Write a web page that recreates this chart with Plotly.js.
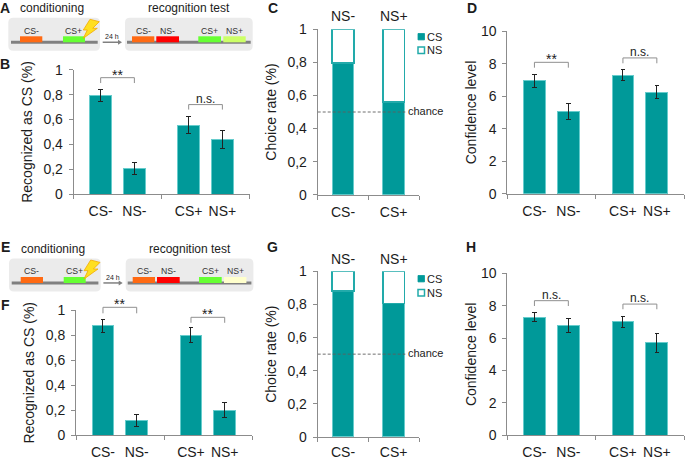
<!DOCTYPE html>
<html>
<head>
<meta charset="utf-8">
<script src="https://cdn.plot.ly/plotly-3.0.1.min.js"></script>
<style>html,body{margin:0;padding:0;background:#fff}#chart{width:685px;height:459px}</style>
</head>
<body>
<div id="chart"></div>
<script>
// ---------- data ----------
const groupCategories = ['CS-', 'NS-', 'CS+', 'NS+'];
const choiceCategories = ['CS-', 'CS+'];
const choiceTopLabels = ['NS-', 'NS+'];

const recognizedB = [0.79, 0.205, 0.555, 0.44];
const recognizedBErr = [0.048, 0.048, 0.068, 0.07];
const choiceCS_C = [0.795, 0.56];
const choiceNS_C = [0.205, 0.44];
const confidenceD = [6.95, 5.05, 7.3, 6.25];
const confidenceDErr = [0.4, 0.48, 0.35, 0.4];

const recognizedF = [0.875, 0.12, 0.80, 0.20];
const recognizedFErr = [0.05, 0.05, 0.059, 0.059];
const choiceCS_G = [0.88, 0.805];
const choiceNS_G = [0.12, 0.195];
const confidenceH = [7.3, 6.8, 7.0, 5.7];
const confidenceHErr = [0.26, 0.43, 0.36, 0.6];

const rateTicks = [0, 0.2, 0.4, 0.6, 0.8, 1];
const rateTickText = ['0', '0,2', '0,4', '0,6', '0,8', '1'];
const levelTicks = [0, 2, 4, 6, 8, 10];
const chanceLevel = 0.5;

// ---------- style ----------
const W = 685, H = 459;
const FONT = '"Liberation Sans", Arial, sans-serif';
const TEAL = '#009999', EDGE = '#66cccc', OUT = '#22aaaa';
const AXIS = '#8c8c8c', INK = '#1c1c1c', BRK = '#8f8f8f';
const xGroup = [0.8, 1.8, 3.41, 4.41];
const xChoice = [0.5, 1.5];

const px = x => x / W, py = y => 1 - y / H;
const data = [], shapes = [], annotations = [];
const layout = {
  width: W, height: H, margin: {l: 0, r: 0, t: 0, b: 0, pad: 0},
  paper_bgcolor: '#fff', plot_bgcolor: 'rgba(0,0,0,0)', showlegend: false,
  barmode: 'stack', font: {family: FONT, color: INK}, shapes, annotations
};

function text(t, x, y, size, o) {
  annotations.push(Object.assign({
    text: t, x: px(x), y: py(y), xref: 'paper', yref: 'paper', showarrow: false,
    xanchor: 'center', yanchor: 'middle', borderpad: 0,
    font: {size, family: FONT, color: INK}
  }, o || {}));
}
function setAxes(n, box, xRange, xVals, xText, xMarks, yRange, yVals, yText, title, stand) {
  layout['xaxis' + (n === 1 ? '' : n)] = {
    domain: [px(box.l), px(box.r)], range: xRange, anchor: 'y' + n, fixedrange: true,
    showgrid: false, zeroline: false, showline: true, linecolor: AXIS, linewidth: 1,
    tickmode: 'array', tickvals: xVals, ticktext: xText, ticks: 'outside', ticklen: box.tl || 4,
    tickcolor: 'rgba(0,0,0,0)', ticklabelstandoff: 0, tickfont: {size: 14, color: INK, family: FONT},
    minor: {tickmode: 'array', tickvals: xMarks, ticks: 'outside', ticklen: 4, tickcolor: AXIS, tickwidth: 1, showgrid: false}
  };
  layout['yaxis' + (n === 1 ? '' : n)] = {
    domain: [py(box.b), py(box.t)], range: yRange, anchor: 'x' + n, fixedrange: true,
    showgrid: false, zeroline: false, showline: true, linecolor: AXIS, linewidth: 1,
    tickmode: 'array', tickvals: yVals, ticktext: yText, ticks: 'outside', ticklen: 4,
    tickcolor: AXIS, ticklabelstandoff: 3, tickfont: {size: 14, color: INK, family: FONT},
    title: {text: title, standoff: stand, font: {size: 14, color: INK, family: FONT}}
  };
}
function bracket(n, box, yMax, x0, x1, top, foot, label, dy) {
  const xr = 'x' + (n === 1 ? '' : n);
  const yp = v => py(box.b - (box.b - box.t) * v / yMax);
  shapes.push({type: 'path', xref: xr, yref: 'paper',
    path: `M${x0},${yp(foot)} L${x0},${yp(top)} L${x1},${yp(top)} L${x1},${yp(foot)}`,
    line: {color: BRK, width: 1}, fillcolor: 'rgba(0,0,0,0)'});
  annotations.push({text: label, x: (x0 + x1) / 2, y: yp(top), xref: xr, yref: 'paper', showarrow: false,
    yanchor: 'middle', yshift: dy, font: {size: label === '**' ? 14 : 12, family: FONT, color: INK}});
}
function groupPanel(n, box, vals, errs, yRange, yVals, yText, title, stand, brackets) {
  setAxes(n, box, [0, 5.22], xGroup, groupCategories, [0, 2.61, 5.22], yRange, yVals, yText, title, stand);
  data.push({type: 'bar', x: xGroup, y: vals, width: 0.64, xaxis: 'x' + n, yaxis: 'y' + n, name: title,
    marker: {color: TEAL, line: {color: EDGE, width: 1}},
    error_y: {type: 'data', array: errs, visible: true, color: '#222', thickness: 1, width: 2.2}});
  brackets.forEach(b => bracket(n, box, yRange[1], xGroup[b[0]], xGroup[b[1]], b[2], b[3], b[4], b[5]));
}
function choicePanel(n, box, cs, ns, lx, topY, stand) {
  setAxes(n, box, [0, 2], xChoice, choiceCategories, [0, 1, 2], [0, 1], rateTicks, rateTickText, 'Choice rate (%)', stand);
  data.push({type: 'bar', x: xChoice, y: cs, width: 0.43, xaxis: 'x' + n, yaxis: 'y' + n, name: 'CS',
    marker: {color: TEAL, line: {color: EDGE, width: 1}}});
  data.push({type: 'bar', x: xChoice, y: ns, width: 0.43, xaxis: 'x' + n, yaxis: 'y' + n, name: 'NS',
    marker: {color: '#ffffff', line: {color: OUT, width: 1.6}}});
  shapes.push({type: 'line', xref: 'x' + n, yref: 'y' + n, x0: 0, x1: 1.73, y0: chanceLevel, y1: chanceLevel,
    line: {color: '#5f5f5f', width: 0.9, dash: '3px,2px'}});
  text('chance', lx.c, box.t + (box.b - box.t) * 0.5 - 1, 11);
  // legend
  shapes.push({type: 'rect', xref: 'paper', yref: 'paper', x0: px(lx.s), x1: px(lx.s + 6.5), y0: py(lx.y1 + 3.2), y1: py(lx.y1 - 3.2),
    fillcolor: TEAL, line: {color: TEAL, width: 0.8}});
  shapes.push({type: 'rect', xref: 'paper', yref: 'paper', x0: px(lx.s), x1: px(lx.s + 6.5), y0: py(lx.y2 + 3.2), y1: py(lx.y2 - 3.2),
    fillcolor: '#fff', line: {color: OUT, width: 1.5}});
  text('CS', lx.s + 7.5, lx.y1, 11, {xanchor: 'left'});
  text('NS', lx.s + 7.5, lx.y2, 11, {xanchor: 'left'});
  choiceTopLabels.forEach((t, i) => annotations.push({text: t, x: xChoice[i], y: py(topY), xref: 'x' + n, yref: 'paper',
    showarrow: false, yanchor: 'middle', font: {size: 14, family: FONT, color: INK}}));
}
function schematic(dx, dy, lastColor) {
  const rr = (x0, x1, y0, y1, r) => `M${px(x0 + r)},${py(y0)} L${px(x1 - r)},${py(y0)} Q${px(x1)},${py(y0)} ${px(x1)},${py(y0 + r)} L${px(x1)},${py(y1 - r)} Q${px(x1)},${py(y1)} ${px(x1 - r)},${py(y1)} L${px(x0 + r)},${py(y1)} Q${px(x0)},${py(y1)} ${px(x0)},${py(y1 - r)} L${px(x0)},${py(y0 + r)} Q${px(x0)},${py(y0)} ${px(x0 + r)},${py(y0)} Z`;
  const pap = {xref: 'paper', yref: 'paper'};
  [[8.3, 100], [125, 252.7]].forEach(b => shapes.push(Object.assign({type: 'path', path: rr(b[0] + dx, b[1] + dx, 17.7 + dy, 50.7 + dy, 5), fillcolor: '#ebebeb', line: {width: 0}, layer: 'below'}, pap)));
  [[11, 97.7], [127, 250.7]].forEach(b => shapes.push(Object.assign({type: 'rect', x0: px(b[0] + dx), x1: px(b[1] + dx), y0: py(40.7 + dy), y1: py(43.7 + dy), fillcolor: '#808080', line: {width: 0}}, pap)));
  [[20, 42.3, '#ff6a13'], [63, 85, '#66ff33'], [132, 154.3, '#ff6a13'], [156.3, 179, '#ff0000'], [198.3, 221, '#66ff33'], [223.3, 245.7, lastColor]].forEach(r =>
    shapes.push(Object.assign({type: 'rect', x0: px(r[0] + dx), x1: px(r[1] + dx), y0: py(36.3 + dy), y1: py(42.3 + dy), fillcolor: r[2], line: {width: 0}}, pap)));
  [['CS-', 31.3], ['CS+', 73.3], ['CS-', 143.3], ['NS-', 167.3], ['CS+', 209.7], ['NS+', 234.3]].forEach(t => text(t[0], t[1] + dx, 30.7 + dy, 8.7, {font: {size: 8.7, family: FONT, color: '#333'}}));
  text('conditioning', 52.3 + dx, 8 + dy, 12);
  text('recognition test', 189.3 + dx, 8 + dy, 12);
  // lightning bolt
  const bolt = [[90, 19.3], [99.3, 21.7], [92.7, 28.3], [97.3, 28.3], [83.3, 38.3], [87.3, 30], [83.3, 30]];
  shapes.push(Object.assign({type: 'path', path: bolt.map((p, i) => (i ? 'L' : 'M') + px(p[0] + dx) + ',' + py(p[1] + dy)).join(' ') + ' Z', fillcolor: '#ffdf20', line: {color: '#f2a900', width: 0.8}}, pap));
  // 24 h arrow
  shapes.push(Object.assign({type: 'rect', x0: px(102.7 + dx), x1: px(118.5 + dx), y0: py(41.5 + dy), y1: py(43 + dy), fillcolor: '#808080', line: {width: 0}}, pap));
  shapes.push(Object.assign({type: 'path', path: `M${px(118 + dx)},${py(39.8 + dy)} L${px(122 + dx)},${py(42.3 + dy)} L${px(118 + dx)},${py(44.8 + dy)} Z`, fillcolor: '#808080', line: {width: 0}}, pap));
  text('24 h', 112 + dx, 36.7 + dy, 7);
}

// ---------- panels ----------
groupPanel(1, {l: 73.7, r: 249.7, t: 69.7, b: 194.3}, recognizedB, recognizedBErr, [0, 1], rateTicks, rateTickText, 'Recognized as CS (%)', 7,
  [[0, 1, 0.936, 0.893, '**', 3], [2, 3, 0.72, 0.68, 'n.s.', 6]]);
choicePanel(2, {l: 317.7, r: 419, t: 29.3, b: 194.7}, choiceCS_C, choiceNS_C, {c: 425.8, s: 418, y1: 36.7, y2: 50.3}, 16, 7);
groupPanel(3, {l: 507.3, r: 684.3, t: 31.3, b: 193.7}, confidenceD, confidenceDErr, [0, 10], levelTicks, levelTicks.map(String), 'Confidence level', 1,
  [[0, 1, 8.09, 7.76, '**', 3], [2, 3, 8.36, 8.03, 'n.s.', 6]]);
groupPanel(4, {l: 76, r: 252, t: 310.3, b: 435.3}, recognizedF, recognizedFErr, [0, 1], rateTicks, rateTickText, 'Recognized as CS (%)', 7,
  [[0, 1, 1.024, 0.976, '**', 3], [2, 3, 0.944, 0.90, '**', 3]]);
choicePanel(5, {l: 317.7, r: 419, t: 271.3, b: 437, tl: 2}, choiceCS_G, choiceNS_G, {c: 425.8, s: 418, y1: 278.7, y2: 292.7}, 259, 7);
groupPanel(6, {l: 507.3, r: 684.3, t: 273.3, b: 435.3}, confidenceH, confidenceHErr, [0, 10], levelTicks, levelTicks.map(String), 'Confidence level', 1,
  [[0, 1, 8.31, 7.98, 'n.s.', 6], [2, 3, 8.1, 7.78, 'n.s.', 6]]);

schematic(0, 0, '#ccff66');
schematic(0.7, 240.7, '#ffffcc');

[['A', 5, 8], ['B', 5, 64], ['C', 272.7, 8], ['D', 472, 8], ['E', 5, 247], ['F', 5, 305], ['G', 272.7, 247], ['H', 470.7, 247]].forEach(l =>
  text('<b>' + l[0] + '</b>', l[1], l[2], 14));

Plotly.newPlot('chart', data, layout, {displayModeBar: false, staticPlot: true});
</script>
</body>
</html>
